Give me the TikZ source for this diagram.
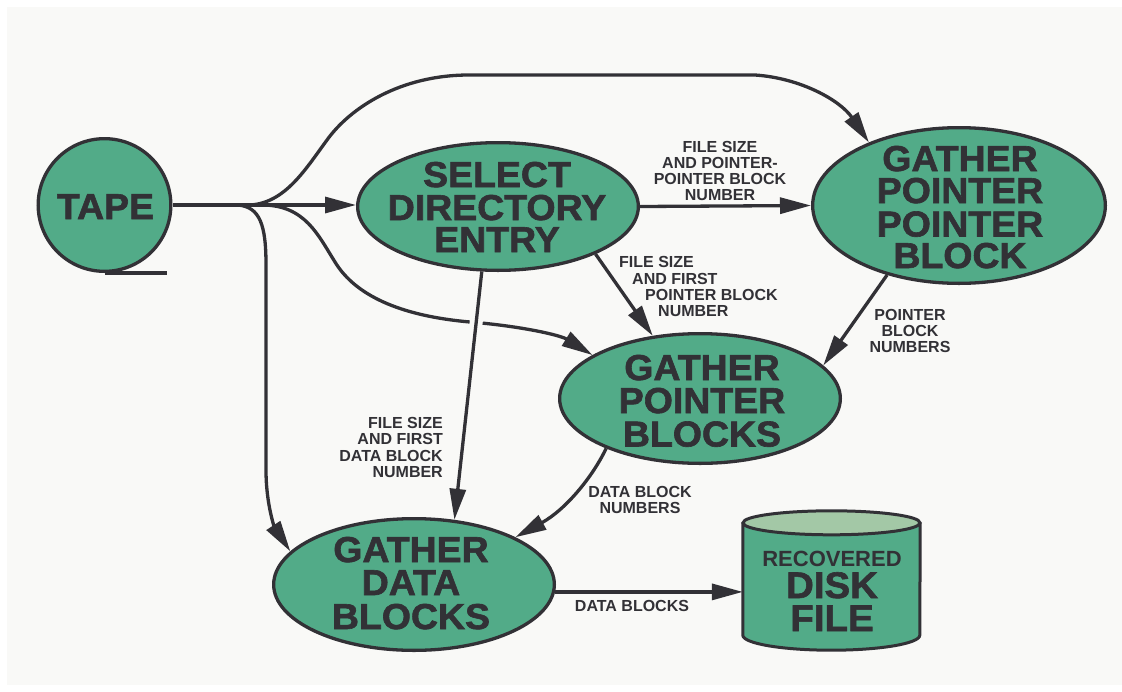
\documentclass[tikz,border=0pt]{standalone}
\usepackage{fontspec}
\usetikzlibrary{arrows.meta,calc,shapes.geometric}
\newfontfamily\heavy[FakeBold=1.7,FakeStretch=1.04]{Liberation Sans Bold}
\newfontfamily\lbl{Liberation Sans Bold}
\definecolor{pagebg}{RGB}{249,249,247}
\definecolor{procfill}{RGB}{82,171,136}
\definecolor{capfill}{RGB}{163,200,166}
\definecolor{ink}{RGB}{50,49,54}
\tikzset{
  proc/.style={ellipse, draw=ink, fill=procfill, line width=3.3pt, inner sep=0pt},
  title/.style={anchor=base, inner sep=0pt, text=ink, text height=26pt, text depth=0pt,
    font=\heavy\fontsize{36}{36}\selectfont},
  note/.style={anchor=base, inner sep=0pt, text=ink, text height=11.5pt, text depth=0pt,
    font=\lbl\fontsize{16}{16}\selectfont},
  flow/.style={draw=ink, line width=3.3pt, -{Triangle[length=31pt,width=16pt]}},
}
\begin{document}
\begin{tikzpicture}[x=1pt,y=-1pt]
\useasboundingbox (0,0) rectangle (1122,691);
\fill[white] (0,0) rectangle (1122,691);
\fill[pagebg] (7,7) rectangle (1122,685);

% process nodes
\node[proc, circle, minimum size=132.7pt] (tape) at (104.5,205) {};
\draw[ink, line width=4pt] (tape.south) -- ++(62,0);
\node[proc, minimum width=280.7pt, minimum height=127.7pt] (sde) at (498,206.5) {};
\node[proc, minimum width=292.7pt, minimum height=155.7pt] (gppb) at (959,205.5) {};
\node[proc, minimum width=280.7pt, minimum height=129.7pt] (gpb) at (700,398.5) {};
\node[proc, minimum width=280.7pt, minimum height=131.7pt] (gdb) at (414,584.5) {};

% recovered disk file (cylinder)
\node[rectangle, minimum width=177pt, minimum height=112pt, inner sep=0pt] (disk) at (831.5,579) {};
\fill[procfill] (disk.north west) -- (disk.south west)
  arc[start angle=180, end angle=360, x radius=88.5pt, y radius=15pt] -- (disk.north east) -- cycle;
\draw[ink, line width=3pt] (disk.north west) -- (disk.south west)
  arc[start angle=180, end angle=360, x radius=88.5pt, y radius=15pt] -- (disk.north east);
\filldraw[fill=capfill, draw=ink, line width=3pt] (disk.north) ellipse [x radius=88.5pt, y radius=12pt];

% titles
\node[title] (tape-t) at (105.5,219) {TAPE};
\foreach \t/\y [count=\i] in {SELECT/187, DIRECTORY/220, ENTRY/252}
  \node[title, name=sde-\i] at (497,\y) {\t};
\foreach \t/\y [count=\i] in {GATHER/171, POINTER/203, POINTER/236.5, BLOCK/268}
  \node[title, name=gppb-\i] at (960,\y) {\t};
\foreach \t/\y [count=\i] in {GATHER/380, POINTER/413, BLOCKS/446.5}
  \node[title, name=gpb-\i] at (702,\y) {\t};
\foreach \t/\y [count=\i] in {GATHER/562, DATA/595, BLOCKS/629}
  \node[title, name=gdb-\i] at (411,\y) {\t};
\node[title, text height=16pt, font=\lbl\fontsize{22}{22}\selectfont] (disk-1) at (832,566) {RECOVERED};
\node[title, font=\heavy\fontsize{37}{37}\selectfont] (disk-2) at (832,598) {DISK};
\node[title, font=\heavy\fontsize{37}{37}\selectfont] (disk-3) at (832,631) {FILE};

% branch points on the tape output line
\coordinate (fork-down) at (238,205);
\coordinate (fork-up) at (250,205);
\coordinate (fork-mid) at (262,205);

% connectors
\draw[flow] (tape.east) -- (tape.east -| sde.west);
\draw[flow] (fork-up) .. controls (285,203) and (305,170) .. (327,140)
  .. controls (350,108) and (400,75) .. (469,75) -- (755,75)
  .. controls (800,78) and (840,100) .. (gppb.145);
\draw[flow] (fork-mid) .. controls (305,205) and (318,235) .. (335,262)
  .. controls (352,290) and (390,315) .. (470,322)
  .. controls (520,326) and (560,335) .. (gpb.158);
\draw[flow] (fork-down) .. controls (260,207) and (266,225) .. (266,265) -- (266,470)
  .. controls (266,505) and (275,528) .. (gdb.165);
\draw[flow] (sde.east) -- (gppb.west);
\draw[flow] (sde.-26) -- (gpb.127);
\path (sde.256) -- (gdb.58) coordinate[pos=0.183] (cut-a) coordinate[pos=0.223] (cut-b);
\draw[pagebg, line width=13pt] (cut-a) -- (cut-b);
\draw[flow] (sde.256) -- (gdb.58);
\draw[flow] (gppb.224) -- (gpb.15);
\draw[flow] (gpb.208) .. controls (592,478) and (565,510) .. (gdb.25);
\draw[flow] (gdb.-3.5) -- (gdb.-3.5 -| disk.west);

% connector labels
\foreach \t/\y [count=\i] in {FILE SIZE/152, AND POINTER-/168, POINTER BLOCK/184, NUMBER/200}
  \node[note, name=n1-\i] at (720,\y) {\t};
\foreach \t/\x/\y [count=\i] in {FILE SIZE/619/267, AND FIRST/632/284, POINTER BLOCK/645/300, NUMBER/658/316}
  \node[note, anchor=base west, name=n2-\i] at (\x,\y) {\t};
\foreach \t/\y [count=\i] in {FILE SIZE/428, AND FIRST/444.5, DATA BLOCK/461, NUMBER/477.5}
  \node[note, anchor=base east, name=n3-\i] at (443,\y) {\t};
\foreach \t/\y [count=\i] in {POINTER/320, BLOCK/336.5, NUMBERS/352.5}
  \node[note, name=n4-\i] at (910,\y) {\t};
\foreach \t/\y [count=\i] in {DATA BLOCK/497, NUMBERS/513}
  \node[note, name=n5-\i] at (640,\y) {\t};
\node[note] (n6) at (632,611.5) {DATA BLOCKS};
\end{tikzpicture}
\end{document}
